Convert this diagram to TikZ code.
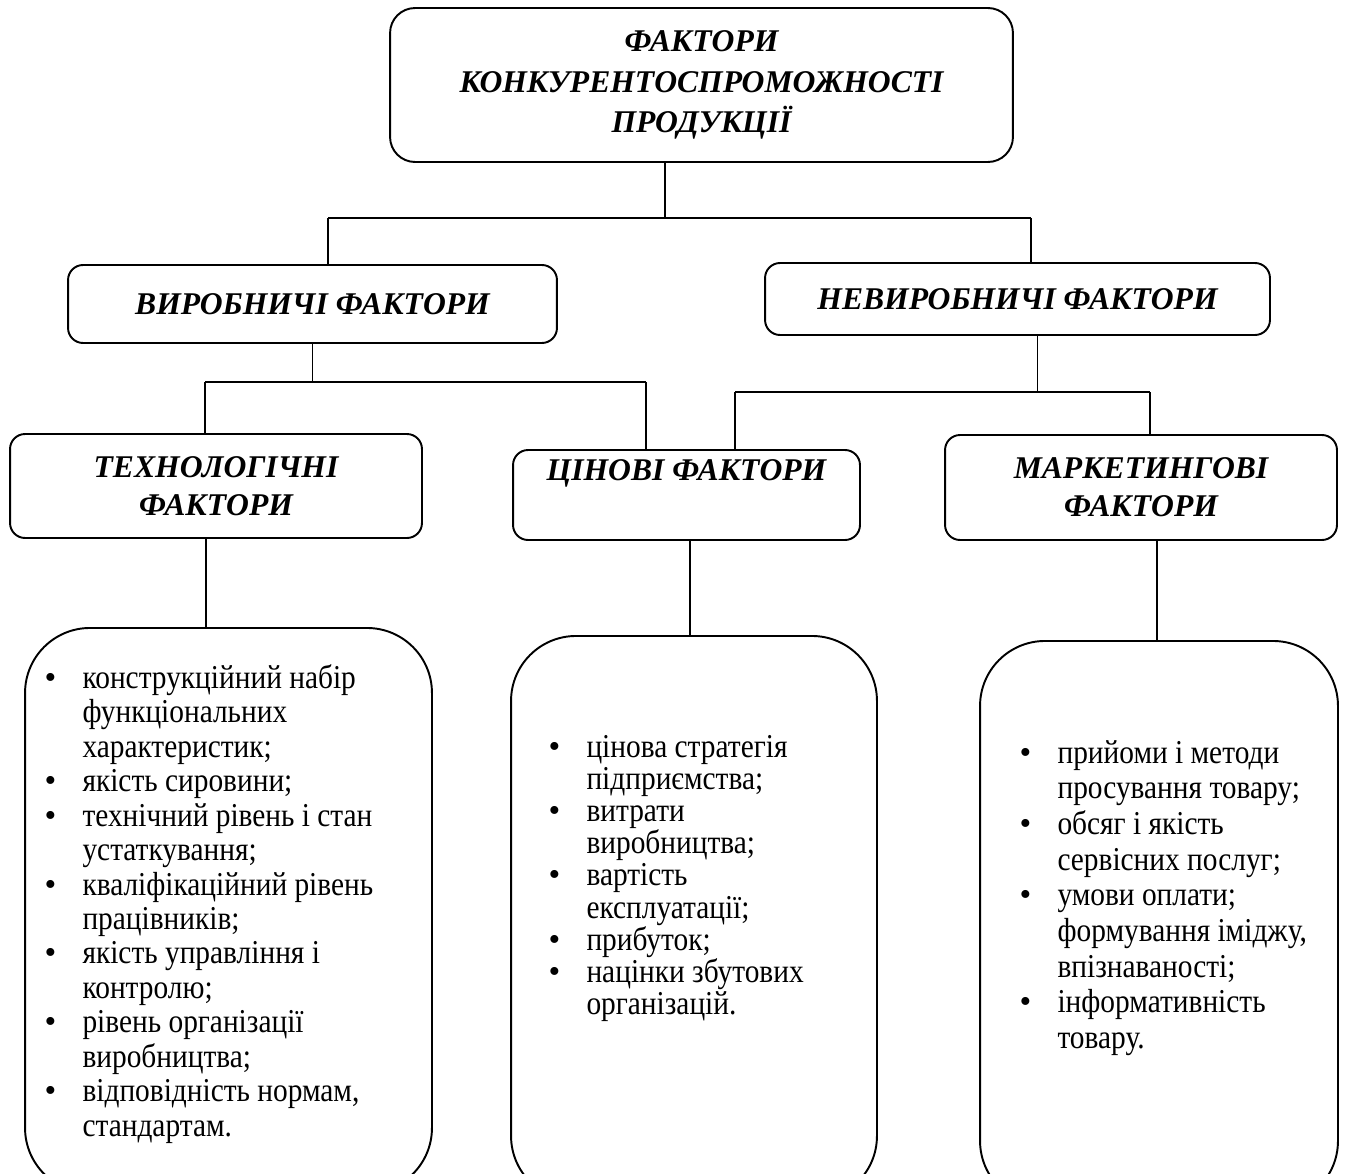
\documentclass[tikz,border=0pt]{standalone}
\usepackage{fontspec}
\setmainfont{Liberation Serif}
\newfontfamily\listfont[FakeStretch=0.88]{Liberation Serif}
\usepackage{tikz}
\usetikzlibrary{positioning}
\newcommand{\bul}{\makebox[0.76cm][l]{\rmfamily\fontsize{19}{18.3}\selectfont\textbullet}}
\newcommand{\bulsp}{\hspace*{0.76cm}}
\newcommand{\listsetup}[1]{\listfont\fontsize{19}{#1}\selectfont\setlength{\lineskiplimit}{-100pt}\relax}

\begin{document}
\begin{tikzpicture}[x=0.02cm, y=-0.02cm, line width=0.6pt,
      hd/.style={draw, line width=1.1pt, rounded corners=0.3cm, align=center, inner sep=0pt,
                 font=\fontsize{18}{21.5}\selectfont\bfseries\itshape},
      lst/.style={draw, line width=1.1pt, rounded corners=1.3cm, anchor=north, minimum height=11.3cm},
      txt/.style={anchor=north west, align=left, inner sep=0pt, font=\listsetup{18.3}},
      bar/.style={line width=1.1pt}]
  \useasboundingbox (0,0) rectangle (1354,1173);
  % headings
  \node[hd, rounded corners=0.5cm, minimum width=12.46cm, minimum height=3.08cm,
        font=\fontsize{18}{23.2}\selectfont\bfseries\itshape] (fct) at (701.5,85)
      {ФАКТОРИ\\КОНКУРЕНТОСПРОМОЖНОСТІ\\ПРОДУКЦІЇ};
  \node[hd, minimum width=9.78cm, minimum height=1.56cm] (vyr) at (312.5,304) {ВИРОБНИЧІ ФАКТОРИ};
  \node[hd, minimum width=10.1cm, minimum height=1.44cm] (nevyr) at (1017.5,299) {НЕВИРОБНИЧІ ФАКТОРИ};
  \node[hd, minimum width=8.24cm, minimum height=2.08cm] (tech) at (216,486) {ТЕХНОЛОГІЧНІ\\ФАКТОРИ};
  \node[hd, minimum width=6.94cm, minimum height=1.8cm] (cin) at (686.5,495) {ЦІНОВІ ФАКТОРИ\\[7pt]\mbox{}};
  \node[hd, minimum width=7.84cm, minimum height=2.1cm] (mark) at (1141,487.5) {МАРКЕТИНГОВІ\\ФАКТОРИ};
  % lists
  \node[lst, minimum width=8.14cm] (ltech) at (228.5,627) {};
  \node[lst, minimum width=7.32cm] (lcin) at (694,635) {};
  \node[lst, minimum width=7.16cm] (lmark) at (1159,640) {};
  \node[txt, font=\listsetup{19.6}] (ttech) at (44,664) {\bul конструкційний набір\\\bulsp функціональних\\\bulsp характеристик;\\
      \bul якість сировини;\\\bul технічний рівень і стан\\\bulsp устаткування;\\
      \bul кваліфікаційний рівень\\\bulsp працівників;\\\bul якість управління і\\\bulsp контролю;\\
      \bul рівень організації\\\bulsp виробництва;\\\bul відповідність нормам,\\\bulsp стандартам.};
  \node[txt] (tcin) at (548,734.7) {\bul цінова стратегія\\\bulsp підприємства;\\\bul витрати\\\bulsp виробництва;\\
      \bul вартість\\\bulsp експлуатації;\\\bul прибуток;\\\bul націнки збутових\\\bulsp організацій.};
  \node[txt, font=\listsetup{20.3}] (tmark) at (1019,739.7) {\bul прийоми і методи\\\bulsp просування товару;\\
      \bul обсяг і якість\\\bulsp сервісних послуг;\\
      \bul умови оплати;\\\bulsp формування іміджу,\\\bulsp впізнаваності;\\\bul інформативність\\\bulsp товару.};
  % connectors
  \coordinate (b1l) at (328,218);  \coordinate (b1r) at (1031,218);
  \coordinate (b2l) at (205,382);  \coordinate (b2r) at (646,382);
  \coordinate (b3l) at (735,392);  \coordinate (b3r) at (1150,392);
  \coordinate (t0) at ([xshift=-0.73cm]fct.south);
  \coordinate (t1) at ([xshift=0.4cm]nevyr.south);
  \coordinate (t2) at ([xshift=-0.2cm]tech.south);
  \coordinate (t3) at ([xshift=0.07cm]cin.south);
  \coordinate (t4) at ([xshift=0.32cm]mark.south);
  \draw (t0) -- (t0 |- b1l);
  \draw[bar] (b1l) -- (b1r);
  \draw (b1l) -- (b1l |- vyr.north);
  \draw (b1r) -- (b1r |- nevyr.north);
  \draw (vyr.south) -- (vyr.south |- b2l);
  \draw[bar] (b2l) -- (b2r);
  \draw (b2l) -- (b2l |- tech.north);
  \draw (b2r) -- (b2r |- cin.north);
  \draw (t1) -- (t1 |- b3l);
  \draw[bar] (b3l) -- (b3r);
  \draw (b3l) -- (b3l |- cin.north);
  \draw (b3r) -- (b3r |- mark.north);
  \draw (t2) -- (t2 |- ltech.north);
  \draw (t3) -- (t3 |- lcin.north);
  \draw (t4) -- (t4 |- lmark.north);
\end{tikzpicture}
\end{document}
